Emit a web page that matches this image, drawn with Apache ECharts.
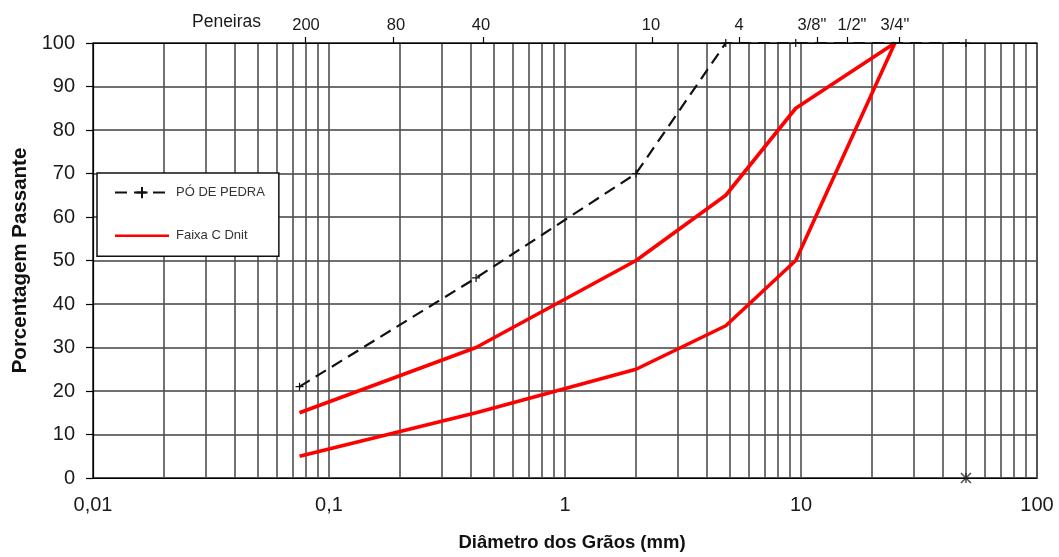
<!DOCTYPE html>
<html>
<head>
<meta charset="utf-8">
<script src="https://cdn.jsdelivr.net/npm/echarts@6/dist/echarts.min.js"></script>
<style>
  html, body { margin: 0; padding: 0; background: #fff; }
  #chart { width: 1059px; height: 557px; }
</style>
</head>
<body>
<div id="chart"></div>
<script>
// Grain-size distribution: diameter (mm) vs. percentage passing
const poDePedraDiam = [0.075, 0.42, 2.0, 4.8, 9.5, 50];
const poDePedraPass = [21, 46, 70, 100, 100, 100];

// Faixa C (DNIT) envelope: upper and lower limits
const faixaDiam = [0.075, 0.42, 2.0, 4.8, 9.5, 25];
const faixaUpper = [15, 30, 50, 65, 85, 100];
const faixaLower = [5, 15, 25, 35, 50, 100];

// Isolated point at the base of the 50 mm line
const extraPoint = [[50, 0]];

// Sieve scale along the top edge (label anchors and tick marks)
const sieveLabels = ['200', '80', '40', '10', '4', '3/8"', '1/2"', '3/4"'];
const sieveLabelPositions = [0.0799, 0.1923, 0.4406, 2.314, 5.46, 11.13, 16.45, 25.02];
const sieveTickPositions = [0.0791, 0.188, 0.449, 2.337, 5.46, 11.69, 15.66, 26.02];

const yTicks = [0, 10, 20, 30, 40, 50, 60, 70, 80, 90, 100];
const xLabelValues = [0.01, 0.1, 1, 10, 100];
const decades = [0.01, 0.1, 1, 10];
const multipliers = [1, 2, 3, 4, 5, 6, 7, 8, 9];

const gridValues = [];
decades.forEach(d => multipliers.forEach(m => gridValues.push(+(d * m).toPrecision(6))));
gridValues.push(100);

const decimalLabel = v => String(v).replace('.', ',');

const poData = poDePedraDiam.map((d, i) => [d, poDePedraPass[i]]);
// upper limit forward, then lower limit back down to the finest sieve
const faixaData = faixaDiam.map((d, i) => [d, faixaUpper[i]])
  .concat(faixaDiam.map((d, i) => [d, faixaLower[i]]).slice(0, -1).reverse());

const font = '"Liberation Sans", Arial, sans-serif';
const ink = '#1a1a1a';
const plusSymbol = 'path://M0,5 L10,5 M5,0 L5,10';
const starSymbol = 'path://M0,0 L10,10 M10,0 L0,10 M5,0 L5,10';
const redBarIcon = 'path://M0,0 L54,0 L54,2.6 L0,2.6 Z';

const chart = echarts.init(document.getElementById('chart'), null, { renderer: 'canvas' });
chart.setOption({
  animation: false,
  backgroundColor: '#fff',
  textStyle: { fontFamily: font },
  title: {
    text: 'Peneiras',
    left: 192,
    top: 13,
    padding: 0,
    textStyle: { fontSize: 17.5, fontWeight: 'normal', color: ink, fontFamily: font }
  },
  grid: {
    left: 93, right: 22, top: 43, bottom: 78,
    show: true, borderColor: '#000', borderWidth: 1.2, backgroundColor: 'transparent'
  },
  legend: {
    left: 97, top: 173,
    orient: 'vertical',
    backgroundColor: '#fff',
    borderColor: '#111',
    borderWidth: 1.5,
    padding: [13, 14, 14, 17],
    itemGap: 30,
    itemWidth: 54,
    itemHeight: 14,
    textStyle: { fontSize: 13, color: '#333', fontFamily: font, padding: [0, 0, 0, 2] },
    data: [
      { name: 'PÓ DE PEDRA' },
      { name: 'Faixa C Dnit', icon: redBarIcon, itemStyle: { color: '#ff0000' } }
    ]
  },
  xAxis: [
    {
      type: 'log', logBase: 10, min: 0.01, max: 100,
      position: 'bottom',
      name: 'Diâmetro dos Grãos (mm)',
      nameLocation: 'middle',
      nameGap: 55,
      nameTextStyle: { fontSize: 18.5, fontWeight: 'bold', color: '#111', fontFamily: font, padding: [0, 0, 0, 14] },
      axisLine: { show: true, lineStyle: { color: '#000', width: 1.2 } },
      axisTick: { show: false, customValues: gridValues },
      axisLabel: {
        customValues: xLabelValues,
        formatter: v => decimalLabel(v),
        fontSize: 20, color: ink, margin: 17, fontFamily: font
      },
      splitLine: { show: true, lineStyle: { color: '#505050', width: 1.6 } },
      minorTick: { show: false },
      minorSplitLine: { show: false }
    },
    {
      type: 'log', logBase: 10, min: 0.01, max: 100,
      position: 'top',
      axisLine: { show: true, lineStyle: { color: '#000', width: 1.2 } },
      axisTick: { show: true, customValues: sieveTickPositions, length: 6, lineStyle: { color: '#000', width: 1.2 } },
      axisLabel: {
        customValues: sieveLabelPositions,
        formatter: v => {
          const i = sieveLabelPositions.findIndex(p => Math.abs(p - v) < 1e-6 * Math.max(1, p));
          return i >= 0 ? sieveLabels[i] : '';
        },
        fontSize: 16.5, color: ink, margin: 9, fontFamily: font
      },
      splitLine: { show: false }
    }
  ],
  yAxis: {
    type: 'value', min: 0, max: 100, interval: 10,
    name: 'Porcentagem Passante',
    nameLocation: 'middle',
    nameGap: 60,
    nameRotate: 90,
    nameTextStyle: { fontSize: 20.5, fontWeight: 'bold', color: '#111', fontFamily: font },
    axisLine: { show: true, lineStyle: { color: '#000', width: 1.2 } },
    axisTick: { show: true, length: 7, lineStyle: { color: '#000', width: 1.2 } },
    axisLabel: {
      fontSize: 20, color: ink, margin: 18, fontFamily: font,
      customValues: yTicks
    },
    splitLine: { show: true, lineStyle: { color: '#404040', width: 1.6 } }
  },
  series: [
    {
      name: 'Faixa C Dnit',
      type: 'line',
      xAxisIndex: 0,
      data: faixaData,
      symbol: 'none',
      lineStyle: { color: '#ff0000', width: 3.6 },
      itemStyle: { color: '#ff0000' },
      z: 3
    },
    {
      name: 'PÓ DE PEDRA',
      type: 'line',
      xAxisIndex: 0,
      data: poData,
      symbol: plusSymbol,
      symbolSize: 8,
      showSymbol: true,
      lineStyle: { color: '#111', width: 2.2, type: [12, 7] },
      itemStyle: { color: '#111', borderColor: '#111', borderWidth: 1.2 },
      z: 4
    },
    {
      name: 'marco',
      type: 'scatter',
      xAxisIndex: 0,
      data: extraPoint,
      symbol: starSymbol,
      symbolSize: 10,
      itemStyle: { color: '#222', borderColor: '#222', borderWidth: 1.5 },
      z: 5
    }
  ]
});
</script>
</body>
</html>
